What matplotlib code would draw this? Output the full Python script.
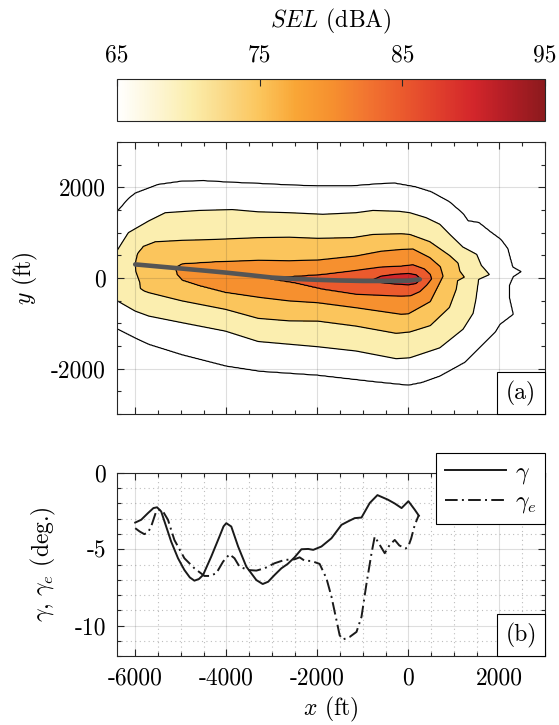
import numpy as np
import matplotlib
matplotlib.use("Agg")
import matplotlib.pyplot as plt
from matplotlib.colors import LinearSegmentedColormap, Normalize
from matplotlib.path import Path
from matplotlib.patches import Rectangle
from matplotlib.ticker import MultipleLocator, FixedLocator, FuncFormatter, NullFormatter

plt.rcParams.update({
    "font.family": "serif",
    "font.serif": ["cmr10"],
    "mathtext.fontset": "cm",
    "axes.formatter.use_mathtext": True,
    "font.size": 17,
    "axes.unicode_minus": False,
})

# ---------------- colour scale ----------------
cmap_stops = [65, 67.5, 70, 72.5, 75, 77.5, 80, 82.5, 85, 87.5, 90, 92.5, 95]
cmap_colors = ["#FFFFFF", "#FDF6D8", "#FBEEAE", "#FAD987", "#FBC55C", "#F9A636",
               "#F6912F", "#F27530", "#EB5A2D", "#E03F2C", "#D3262B", "#B01D25",
               "#8C1A1D"]
sel_levels = [65, 70, 75, 80, 85, 90, 95]
cbar_ticks = [65, 75, 85, 95]

# ---------------- SEL footprint (contour boundaries, ft) ----------------
contour_65 = [(-7000, 1200), (-6400, 1460), (-6150, 1750), (-6000, 1870), (-5500, 2060),
              (-4970, 2135), (-4500, 2145), (-3900, 2110), (-3300, 2085), (-2600, 2050),
              (-2000, 2030), (-1250, 2030), (-600, 2080), (-300, 2090), (150, 2010),
              (500, 1900), (900, 1680), (1200, 1420), (1310, 1260), (1550, 1220),
              (1800, 1020), (2030, 850), (2180, 650), (2240, 420), (2290, 240),
              (2470, 140), (2300, 30), (2220, -150), (2220, -450), (2300, -800),
              (2010, -1020), (1900, -1200), (1550, -1550), (1250, -1850), (690, -2160),
              (300, -2300), (0, -2360), (-780, -2280), (-2000, -2140), (-3250, -2055),
              (-4000, -1940), (-4970, -1690), (-5700, -1460), (-6000, -1320),
              (-6370, -1130), (-7000, -850)]
contour_70 = [(-7000, 300), (-6400, 600), (-6150, 1000), (-5700, 1260), (-5340, 1440),
              (-4600, 1490), (-3870, 1510), (-3300, 1460), (-2620, 1440), (-1880, 1405),
              (-1150, 1440), (-780, 1490), (-200, 1470), (30, 1440), (390, 1330),
              (690, 1185), (920, 950), (1200, 680), (1500, 520), (1600, 280),
              (1780, 75), (1540, -30), (1480, -480), (1420, -780), (1200, -1130),
              (690, -1540), (30, -1760), (-270, -1780), (-1150, -1610), (-2000, -1515),
              (-2620, -1460), (-3300, -1400), (-4020, -1170), (-4970, -985),
              (-5700, -840), (-6000, -730), (-6400, -500), (-7000, -200)]
contour_75 = [(-5820, 700), (-5560, 800), (-4970, 830), (-4240, 850), (-3300, 890),
              (-2620, 900), (-1990, 875), (-1220, 890), (-780, 960), (-160, 975),
              (30, 960), (470, 800), (900, 500), (1090, 330), (1130, 150), (1230, 20),
              (1080, -60), (1050, -250), (900, -650), (480, -1050), (30, -1190),
              (-270, -1220), (-1150, -1060), (-1990, -950), (-2620, -945), (-3300, -890),
              (-4020, -690), (-4970, -505), (-5700, -325), (-5800, -290), (-5890, -230),
              (-5900, -100), (-5990, 150), (-6000, 330), (-5950, 540)]
contour_80 = [(-5120, 230), (-4970, 316), (-4240, 360), (-3300, 390), (-2620, 380),
              (-1990, 395), (-1150, 485), (-600, 590), (-160, 630), (100, 640),
              (470, 450), (700, 250), (760, 40), (600, -280), (480, -520), (0, -790),
              (-160, -800), (-1150, -655), (-1990, -545), (-2620, -505), (-3250, -430),
              (-4020, -320), (-4600, -170), (-4970, -50), (-5080, 80)]
contour_85 = [(-3100, 0), (-2500, 40), (-1900, 80), (-1220, 160), (-600, 240),
              (-160, 260), (100, 290), (350, 200), (480, 80), (510, -20), (400, -160),
              (250, -300), (50, -390), (-160, -400), (-1150, -360), (-1880, -250),
              (-2500, -110), (-3000, -30)]
contour_90 = [(-800, -50), (-600, 40), (-300, 80), (0, 100), (170, 70), (270, -20),
              (170, -120), (0, -150), (-300, -130), (-600, -100)]

# ground track of the flight
track_x = [-6000, -5500, -5000, -4500, -4000, -3500, -3000, -2500, -2000, -1500,
           -1000, -500, 0, 250]
track_y = [300, 255, 210, 165, 118, 65, 10, -20, -40, -55, -65, -66, -60, -30]

# ---------------- flight-path angles ----------------
gamma_x = [-6000, -5870, -5720, -5600, -5520, -5430, -5320, -5210, -5060, -4920,
           -4800, -4700, -4600, -4510, -4330, -4150, -4060, -4000, -3890, -3740,
           -3560, -3340, -3200, -3080, -2940, -2790, -2650, -2500, -2350, -2200,
           -2090, -1910, -1690, -1470, -1330, -1180, -1030, -850, -680, -450,
           -300, -150, 0, 140, 230]
gamma = [-3.25, -3.07, -2.63, -2.30, -2.25, -2.52, -3.51, -4.50, -5.59, -6.36,
         -6.85, -7.06, -6.95, -6.69, -5.48, -4.17, -3.50, -3.29, -3.51, -4.82,
         -6.14, -7.02, -7.28, -7.13, -6.69, -6.25, -5.96, -5.53, -5.00, -4.98,
         -5.04, -4.82, -4.28, -3.40, -3.18, -2.96, -2.92, -1.97, -1.45, -1.75,
         -2.00, -2.30, -1.85, -2.41, -2.80]

gamma_e_x = [-6000, -5900, -5800, -5720, -5650, -5540, -5465, -5390, -5280, -5140,
             -4920, -4700, -4480, -4370, -4220, -4070, -3930, -3820, -3710, -3520,
             -3340, -3160, -2940, -2720, -2500, -2390, -2280, -2130, -1950, -1800,
             -1690, -1580, -1510, -1440, -1290, -1140, -1030, -920, -810, -740,
             -630, -520, -410, -300, -200, -60, 0, 60, 140, 230]
gamma_e = [-3.62, -3.84, -4.01, -3.90, -3.51, -2.52, -2.41, -2.52, -3.07, -4.39,
           -5.59, -6.25, -6.75, -6.75, -6.58, -5.81, -5.33, -5.59, -6.14, -6.36,
           -6.40, -6.25, -5.92, -5.70, -5.66, -5.53, -5.75, -5.77, -5.96, -6.91,
           -8.11, -9.65, -10.64, -10.92, -10.75, -10.42, -9.43, -7.24, -5.26, -4.17,
           -4.71, -5.26, -4.71, -4.39, -4.75, -4.95, -4.80, -4.30, -3.40, -2.75]

x_ticks = [-6000, -4000, -2000, 0, 2000]

# ---------------- helpers ----------------
def signed_distance(poly, X, Y):
    """Distance to a closed boundary, positive inside."""
    pts = np.asarray(poly, float)
    P = np.vstack([pts, pts[:1]])
    d = np.full(X.shape, np.inf)
    for (x0, y0), (x1, y1) in zip(P[:-1], P[1:]):
        dx, dy = x1 - x0, y1 - y0
        t = np.clip(((X - x0) * dx + (Y - y0) * dy) / (dx * dx + dy * dy), 0, 1)
        d = np.minimum(d, np.hypot(X - x0 - t * dx, Y - y0 - t * dy))
    inside = Path(P).contains_points(
        np.column_stack([X.ravel(), Y.ravel()])).reshape(X.shape)
    return np.where(inside, d, -d)


def sel_field(boundaries, levels, X, Y):
    D = [signed_distance(b, X, Y) for b in boundaries]
    F = levels[0] + np.clip(D[0], -2000, 0) / 400.0
    n = len(boundaries)
    for k in range(n):
        ins = D[k] >= 0
        if k < n - 1:
            den = D[k] - D[k + 1]
            den = np.where(np.abs(den) < 1e-9, 1e-9, den)
            frac = np.clip(D[k] / den, 0, 0.999)
        else:
            frac = np.clip(D[k] / 150.0, 0, 0.999)
        F = np.where(ins, levels[k] + (levels[k + 1] - levels[k]) * frac, F)
    return F


def ft_fmt(v, pos):
    return f"{v:.0f}"


cmap = LinearSegmentedColormap.from_list(
    "sel", [((s - 65) / 30.0, c) for s, c in zip(cmap_stops, cmap_colors)])
norm = Normalize(65, 95)

W, H = 559, 725
fig = plt.figure(figsize=(W / 100, H / 100), dpi=100)
axis_col = "#262626"

# ---------------- colour bar ----------------
cax = fig.add_axes([117 / W, 1 - 121 / H, 428 / W, 42 / H])
sm = plt.cm.ScalarMappable(norm=norm, cmap=cmap)
cb = fig.colorbar(sm, cax=cax, orientation="horizontal")
cb.set_ticks(cbar_ticks)
cb.set_ticklabels([str(t) for t in cbar_ticks])
cax.xaxis.set_ticks_position("top")
cax.xaxis.set_label_position("top")
cax.tick_params(direction="in", length=5, width=0.8, pad=9, color=axis_col)
cb.set_label(r"$SEL$ (dBA)", labelpad=12)
cb.outline.set_linewidth(0.8)
cb.outline.set_edgecolor(axis_col)

# ---------------- (a) SEL contours ----------------
ax1 = fig.add_axes([117 / W, 1 - 414 / H, 428 / W, 272 / H])
gx = np.linspace(-6400, 3000, 471)
gy = np.linspace(-3000, 3000, 301)
X, Y = np.meshgrid(gx, gy)
boundaries = [contour_65, contour_70, contour_75, contour_80, contour_85, contour_90]
F = sel_field(boundaries, sel_levels, X, Y)
fill_colors = [cmap(norm(v)) for v in sel_levels[:-1]]
ax1.contourf(X, Y, F, levels=sel_levels, colors=fill_colors, zorder=1)
ax1.contour(X, Y, F, levels=sel_levels[:-1], colors="k", linewidths=0.85, zorder=2)
ax1.plot(track_x, track_y, color="#555555", lw=3.3, solid_capstyle="round", zorder=3)

ax1.set_xlim(-6400, 3000)
ax1.set_ylim(-3000, 3000)
ax1.xaxis.set_major_locator(FixedLocator(x_ticks))
ax1.xaxis.set_minor_locator(MultipleLocator(500))
ax1.yaxis.set_major_locator(FixedLocator([-2000, 0, 2000]))
ax1.yaxis.set_minor_locator(MultipleLocator(500))
ax1.xaxis.set_major_formatter(NullFormatter())
ax1.yaxis.set_major_formatter(FuncFormatter(ft_fmt))
ax1.grid(True, which="major", color="#262626", alpha=0.15, lw=0.8)
ax1.set_axisbelow(False)
ax1.set_ylabel(r"$y$ (ft)", labelpad=8)

# ---------------- (b) flight-path angles ----------------
ax2 = fig.add_axes([117 / W, 1 - 656 / H, 428 / W, 183 / H])
ax2.plot(gamma_x, gamma, color="#1a1a1a", lw=1.4, label=r"$\gamma$")
ax2.plot(gamma_e_x, gamma_e, color="#1a1a1a", lw=1.4,
         linestyle=(0, (6.5, 2.2, 1.0, 2.2)), label=r"$\gamma_e$")
ax2.set_xlim(-6400, 3000)
ax2.set_ylim(-12, 0)
ax2.xaxis.set_major_locator(FixedLocator(x_ticks))
ax2.xaxis.set_minor_locator(MultipleLocator(500))
ax2.yaxis.set_major_locator(FixedLocator([-10, -5, 0]))
ax2.yaxis.set_minor_locator(MultipleLocator(1))
ax2.xaxis.set_major_formatter(FuncFormatter(ft_fmt))
ax2.yaxis.set_major_formatter(FuncFormatter(ft_fmt))
ax2.grid(True, which="major", color="#262626", alpha=0.15, lw=0.8)
ax2.grid(True, which="minor", color="#262626", alpha=0.3, lw=0.8, linestyle=(0, (1, 3)))
ax2.set_ylabel(r"$\gamma$, $\gamma_e$ (deg.)", labelpad=12)
ax2.set_xlabel(r"$x$ (ft)", labelpad=4)
leg = ax2.legend(loc="upper right", bbox_to_anchor=(1.0, 1.109), borderaxespad=0,
                 frameon=True, fancybox=False, edgecolor="k", framealpha=1,
                 handlelength=2.6, handletextpad=0.4, labelspacing=0.2,
                 borderpad=0.35)
leg.get_frame().set_linewidth(0.8)

for ax in (ax1, ax2):
    ax.tick_params(which="both", direction="in", top=True, right=True,
                   color=axis_col, width=0.8)
    ax.tick_params(which="major", length=5, pad=8)
    ax.tick_params(which="minor", length=3)
    for s in ax.spines.values():
        s.set_color(axis_col)
        s.set_linewidth(0.8)

# panel tags
for ax, tag in ((ax1, "(a)"), (ax2, "(b)")):
    bw = 48 / 428
    bh = 42 / (272 if ax is ax1 else 183)
    ax.add_patch(Rectangle((1 - bw, 0), bw, bh, transform=ax.transAxes,
                           facecolor="white", edgecolor="k", lw=0.8,
                           zorder=6, clip_on=False))
    ax.text(1 - bw / 2, bh / 2, tag, transform=ax.transAxes, ha="center",
            va="center", zorder=7)

fig.savefig("out.png", dpi=100)
